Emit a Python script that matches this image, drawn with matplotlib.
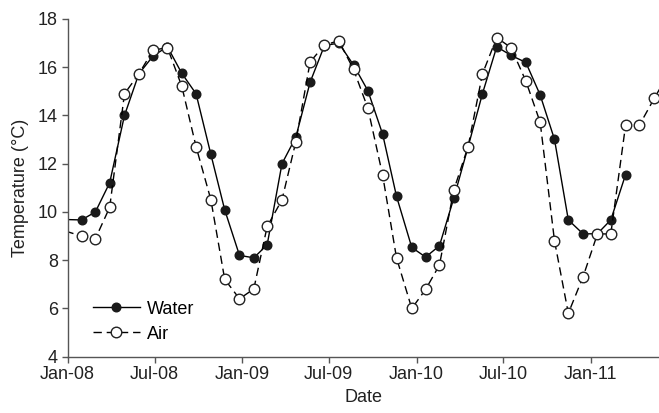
import numpy as np
import pandas as pd
import matplotlib
matplotlib.use("Agg")
import matplotlib.pyplot as plt
import matplotlib.dates as mdates

plt.rcParams['font.family'] = ['Liberation Sans', 'DejaVu Sans']

# sampling dates (first and last fall outside the visible axis range)
dates = ['2007-12-01',
         '2008-01-30', '2008-02-28', '2008-03-29', '2008-04-29', '2008-05-29', '2008-06-28',
         '2008-07-28', '2008-08-27', '2008-09-26', '2008-10-27', '2008-11-25', '2008-12-26',
         '2009-01-25', '2009-02-22', '2009-03-25', '2009-04-23', '2009-05-23', '2009-06-22',
         '2009-07-22', '2009-08-22', '2009-09-21', '2009-10-22', '2009-11-20', '2009-12-22',
         '2010-01-20', '2010-02-18', '2010-03-20', '2010-04-19', '2010-05-19', '2010-06-18',
         '2010-07-18', '2010-08-18', '2010-09-17', '2010-10-17', '2010-11-15', '2010-12-16',
         '2011-01-15', '2011-02-12', '2011-03-15', '2011-04-13', '2011-05-14', '2011-06-12']

water = [9.7,
         9.67, 10.0, 11.21, 14.0, 15.72, 16.47,
         16.85, 15.75, 14.9, 12.39, 10.09, 8.2,
         8.1, 8.64, 12.0, 13.1, 15.38, 16.9,
         17.0, 16.09, 15.03, 13.22, 10.65, 8.53,
         8.13, 8.6, 10.57, 12.7, 14.9, 16.85,
         16.49, 16.2, 14.85, 13.01, 9.67, 9.09,
         9.1, 9.67, 11.55]

air = [9.37,
       9.0, 8.89, 10.19, 14.9, 15.72, 16.71,
       16.81, 15.22, 12.71, 10.51, 7.21, 6.4,
       6.81, 9.4, 10.5, 12.91, 16.22, 16.92,
       17.1, 15.91, 14.3, 11.52, 8.1, 6.0,
       6.79, 7.8, 10.91, 12.71, 15.72, 17.23,
       16.81, 15.43, 13.72, 8.81, 5.8, 7.32,
       9.09, 9.09, 13.6, 13.6, 14.71, 15.7]

t = pd.to_datetime(dates)

fig = plt.figure(figsize=(6.59, 4.13), dpi=100)
ax = fig.add_axes([0.1027, 0.1363, 0.8973, 0.8177])

ax.plot(t[:len(water)], water, '-', color='black', lw=1.0,
        marker='o', markersize=6.2, markerfacecolor='#1a1a1a',
        markeredgecolor='#1a1a1a', label='Water')
ax.plot(t, air, color='black', lw=1.0, linestyle=(0, (6, 3.5)),
        marker='o', markersize=7.6, markerfacecolor='white',
        markeredgecolor='#222222', markeredgewidth=1.0, label='Air')

ax.set_xlim(pd.Timestamp('2008-01-01'), pd.Timestamp('2011-05-24'))
ax.set_ylim(4, 18)
ax.set_yticks(range(4, 19, 2))
ax.xaxis.set_major_locator(mdates.MonthLocator(bymonth=[1, 7]))
ax.xaxis.set_major_formatter(mdates.DateFormatter('%b-%y'))

for s in ['top', 'right']:
    ax.spines[s].set_visible(False)
for s in ['left', 'bottom']:
    ax.spines[s].set_color('#555555')
    ax.spines[s].set_linewidth(1.0)
ax.tick_params(direction='out', length=4, width=1, color='#555555',
               labelsize=13, labelcolor='#222222', pad=3)

ax.set_xlabel('Date', fontsize=13, color='#222222', labelpad=4)
ax.set_ylabel('Temperature (°C)', fontsize=13, color='#222222', labelpad=6)

ax.legend(loc='lower left', bbox_to_anchor=(0.03, 0.02), frameon=False,
          fontsize=13, handlelength=2.6, handletextpad=0.4,
          labelspacing=0.45, borderaxespad=0)

fig.savefig('out.png', dpi=100)
